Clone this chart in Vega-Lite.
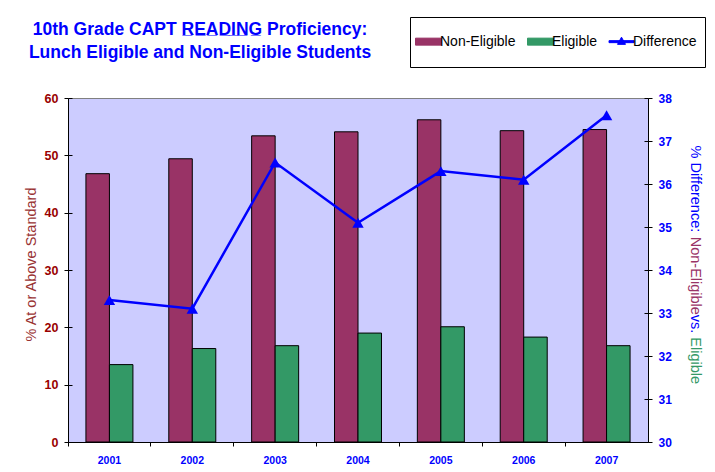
{
  "$schema": "https://vega.github.io/schema/vega-lite/v6.json",
  "width": 580,
  "height": 344,
  "autosize": "none",
  "padding": {"left": 68, "top": 98, "right": 67, "bottom": 30},
  "background": "white",
  "datasets": {
    "bars": [
      {"year": "2001", "series": "Non-Eligible", "value": 46.8},
      {"year": "2001", "series": "Eligible", "value": 13.5},
      {"year": "2002", "series": "Non-Eligible", "value": 49.4},
      {"year": "2002", "series": "Eligible", "value": 16.3},
      {"year": "2003", "series": "Non-Eligible", "value": 53.4},
      {"year": "2003", "series": "Eligible", "value": 16.8},
      {"year": "2004", "series": "Non-Eligible", "value": 54.1},
      {"year": "2004", "series": "Eligible", "value": 19.0},
      {"year": "2005", "series": "Non-Eligible", "value": 56.2},
      {"year": "2005", "series": "Eligible", "value": 20.1},
      {"year": "2006", "series": "Non-Eligible", "value": 54.3},
      {"year": "2006", "series": "Eligible", "value": 18.3},
      {"year": "2007", "series": "Non-Eligible", "value": 54.5},
      {"year": "2007", "series": "Eligible", "value": 16.8}
    ],
    "diff": [
      {"year": "2001", "diff": 33.3},
      {"year": "2002", "diff": 33.1},
      {"year": "2003", "diff": 36.5},
      {"year": "2004", "diff": 35.1},
      {"year": "2005", "diff": 36.3},
      {"year": "2006", "diff": 36.1},
      {"year": "2007", "diff": 37.6}
    ]
  },
  "title": {
    "text": ["10th Grade CAPT R\u0332E\u0332A\u0332D\u0332I\u0332N\u0332G\u0332 Proficiency:", "Lunch Eligible and Non-Eligible Students"],
    "anchor": "start",
    "align": "center",
    "frame": "group",
    "dx": 132,
    "fontSize": 17.5,
    "fontWeight": "bold",
    "color": "#0000FF",
    "lineHeight": 23.5,
    "baseline": "top",
    "offset": -45
  },
  "encoding": {
    "x": {
      "field": "year",
      "type": "nominal",
      "scale": {"paddingInner": 0, "paddingOuter": 0},
      "axis": {
        "title": null,
        "labelAngle": 0,
        "labelColor": "#0000FF",
        "labelFontWeight": "bold",
        "labelFontSize": 10.5,
        "tickSize": 4,
        "labelPadding": 9.5,
        "bandPosition": 0
      }
    }
  },
  "layer": [
    {
      "data": {"name": "bars"},
      "mark": {"type": "bar", "stroke": "black", "strokeWidth": 1},
      "encoding": {
        "xOffset": {
          "field": "series",
          "sort": ["Non-Eligible", "Eligible"],
          "scale": {"paddingInner": 0, "paddingOuter": 0.763}
        },
        "y": {
          "field": "value",
          "type": "quantitative",
          "scale": {"domain": [0, 60]},
          "axis": {
            "orient": "left",
            "values": [0, 10, 20, 30, 40, 50, 60],
            "labelColor": "#990000",
            "labelFontWeight": "bold",
            "labelFontSize": 12.5,
            "tickSize": 4,
            "labelPadding": 6,
            "title": "% At or Above Standard",
            "titleColor": "#993333",
            "titleFontSize": 14.5,
            "titleFontWeight": "normal",
            "titleAngle": -90,
            "titleAlign": "center",
            "titleBaseline": "alphabetic",
            "titleX": -33,
            "titleY": 166
          }
        },
        "color": {
          "field": "series",
          "type": "nominal",
          "scale": {
            "domain": ["Non-Eligible", "Eligible", "Difference"],
            "range": ["#993366", "#339966", "#0000FF"]
          },
          "legend": {
            "orient": "none",
            "legendX": 342,
            "legendY": -81,
            "direction": "horizontal",
            "title": null,
            "strokeColor": "black",
            "fillColor": "white",
            "padding": 8,
            "symbolSize": 1024,
            "labelFontSize": 14,
            "labelColor": "black",
            "labelOffset": -5,
            "columnPadding": 9,
            "symbolOffset": -6,
            "encode": {
              "symbols": {
                "update": {
                  "shape": {"signal": "datum.label === 'Difference' ? 'M0,-0.95M0,0.95M-0.78,-0.0625H0.78V0.0625H-0.78Z M-0.25,0.17L0,-0.28L0.25,0.17Z' : 'M0,-0.95M0,0.95M-0.8125,-0.219H0.8125V0.219H-0.8125Z'"},
                  "fill": {"signal": "datum.label === 'Difference' ? '#0000FF' : (datum.label === 'Eligible' ? '#339966' : '#993366')"},
                  "stroke": {"signal": "datum.label === 'Difference' ? 'transparent' : 'black'"},
                  "strokeWidth": {"value": 1},
                  "opacity": {"value": 1}
                }
              }
            }
          }
        }
      }
    },
    {
      "data": {"name": "diff"},
      "mark": {
        "type": "line",
        "strokeWidth": 2.5,
        "point": {"shape": "triangle-up", "size": 130, "filled": true}
      },
      "encoding": {
        "y": {
          "field": "diff",
          "type": "quantitative",
          "scale": {"domain": [30, 38]},
          "axis": {
            "orient": "right",
            "values": [30, 31, 32, 33, 34, 35, 36, 37, 38],
            "labelColor": "#0000FF",
            "labelFontWeight": "bold",
            "labelFontSize": 12,
            "tickSize": 4,
            "labelPadding": 6,
            "title": "% Difference: ",
            "titleColor": "#0000FF",
            "titleFontSize": 14.5,
            "titleFontWeight": "normal",
            "titleAngle": 90,
            "titleAlign": "left",
            "titleBaseline": "alphabetic",
            "titleX": 42.5,
            "titleY": 47
          }
        },
        "color": {
          "datum": "Difference",
          "legend": {
            "orient": "none",
            "legendX": 342,
            "legendY": -81,
            "direction": "horizontal",
            "title": null,
            "strokeColor": "black",
            "fillColor": "white",
            "padding": 8,
            "symbolSize": 1024,
            "labelFontSize": 14,
            "labelColor": "black",
            "labelOffset": -5,
            "columnPadding": 9,
            "symbolOffset": -6,
            "encode": {
              "symbols": {
                "update": {
                  "shape": {"signal": "datum.label === 'Difference' ? 'M0,-0.95M0,0.95M-0.78,-0.0625H0.78V0.0625H-0.78Z M-0.25,0.17L0,-0.28L0.25,0.17Z' : 'M0,-0.95M0,0.95M-0.8125,-0.219H0.8125V0.219H-0.8125Z'"},
                  "fill": {"signal": "datum.label === 'Difference' ? '#0000FF' : (datum.label === 'Eligible' ? '#339966' : '#993366')"},
                  "stroke": {"signal": "datum.label === 'Difference' ? 'transparent' : 'black'"},
                  "strokeWidth": {"value": 1},
                  "opacity": {"value": 1}
                }
              }
            }
          }
        }
      }
    },
    {
      "data": {"name": "diff"},
      "mark": {"type": "point", "opacity": 0},
      "encoding": {
        "y": {
          "field": "diff",
          "type": "quantitative",
          "scale": {"domain": [30, 38]},
          "axis": {
            "orient": "right",
            "values": [30, 31, 32, 33, 34, 35, 36, 37, 38],
            "labels": false,
            "domain": false,
            "ticks": true,
            "tickSize": -4,
            "title": "Non-Eligible",
            "titleColor": "#993366",
            "titleFontSize": 14.5,
            "titleFontWeight": "normal",
            "titleAngle": 90,
            "titleAlign": "left",
            "titleBaseline": "alphabetic",
            "titleX": 42.5,
            "titleY": 138.2
          }
        }
      }
    },
    {
      "data": {"name": "diff"},
      "mark": {"type": "point", "opacity": 0},
      "encoding": {
        "y": {
          "field": "diff",
          "type": "quantitative",
          "scale": {"domain": [30, 38]},
          "axis": {
            "orient": "right",
            "labels": false,
            "domain": false,
            "ticks": false,
            "title": "vs.",
            "titleColor": "#0000FF",
            "titleFontSize": 14.5,
            "titleFontWeight": "normal",
            "titleAngle": 90,
            "titleAlign": "left",
            "titleBaseline": "alphabetic",
            "titleX": 42.5,
            "titleY": 216.3
          }
        }
      }
    },
    {
      "data": {"name": "diff"},
      "mark": {"type": "point", "opacity": 0},
      "encoding": {
        "y": {
          "field": "diff",
          "type": "quantitative",
          "scale": {"domain": [30, 38]},
          "axis": {
            "orient": "right",
            "labels": false,
            "domain": false,
            "ticks": false,
            "title": "Eligible",
            "titleColor": "#339966",
            "titleFontSize": 14.5,
            "titleFontWeight": "normal",
            "titleAngle": 90,
            "titleAlign": "left",
            "titleBaseline": "alphabetic",
            "titleX": 42.5,
            "titleY": 238.8
          }
        }
      }
    },
    {
      "data": {"name": "bars"},
      "mark": {"type": "point", "opacity": 0},
      "encoding": {
        "y": {
          "field": "value",
          "type": "quantitative",
          "scale": {"domain": [0, 60]},
          "axis": {
            "orient": "left",
            "values": [0, 10, 20, 30, 40, 50, 60],
            "labels": false,
            "domain": false,
            "ticks": true,
            "tickSize": -4,
            "title": null
          }
        }
      }
    }
  ],
  "resolve": {"scale": {"y": "independent"}, "axis": {"y": "independent"}},
  "config": {
    "font": "Liberation Sans",
    "view": {"stroke": "#808080", "fill": "#CCCCFF"},
    "axis": {"grid": false, "domainColor": "black", "tickColor": "black", "domainWidth": 1, "tickWidth": 1}
  }
}
